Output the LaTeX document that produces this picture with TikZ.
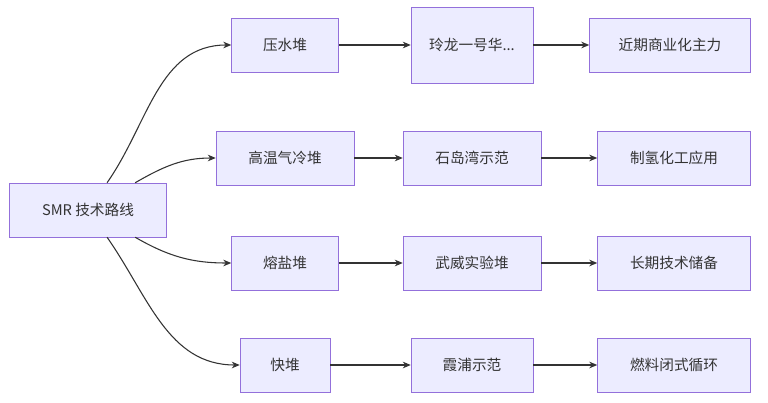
\documentclass[tikz,border=0pt]{standalone}
\usepackage{fontspec}
\setmainfont{Noto Sans CJK SC}
\usetikzlibrary{arrows.meta}

\tikzset{
    box/.style={draw={rgb,255:red,147;green,112;blue,219}, fill={rgb,255:red,236;green,236;blue,255}, minimum height=40.5pt, inner sep=0pt, font=\fontsize{11}{13}\selectfont, text={rgb,255:red,51;green,51;blue,51}},
    link/.style={draw={rgb,255:red,51;green,51;blue,51}, line width=0.8pt, -{Stealth[length=6pt,width=5pt]}}
}

\begin{document}
\begin{tikzpicture}[x=0.75pt,y=-0.75pt]
    \useasboundingbox (0,0) rectangle (768,403);

    % root
    \node [box, minimum width=117.75pt] (smr) at (88,210) {SMR 技术路线};

    % first column
    \node [box, minimum width=80.25pt] (pwr) at (285,45) {压水堆};
    \node [box, minimum width=103.5pt] (htgr) at (285,158) {高温气冷堆};
    \node [box, minimum width=80.25pt] (msr) at (285,263) {熔盐堆};
    \node [box, minimum width=67.5pt] (fbr) at (285,365) {快堆};

    % second column
    \node [box, minimum width=91.5pt, minimum height=57pt] (linglong) at (472,45) {玲龙一号华...};
    \node [box, minimum width=103.5pt] (shidao) at (472,158) {石岛湾示范};
    \node [box, minimum width=103.5pt] (wuwei) at (472,263) {武威实验堆};
    \node [box, minimum width=91.5pt] (xiapu) at (472,365) {霞浦示范};

    % third column
    \node [box, minimum width=120.75pt] (nearterm) at (670,45) {近期商业化主力};
    \node [box, minimum width=114.75pt] (hydrogen) at (674,158) {制氢化工应用};
    \node [box, minimum width=114.75pt] (reserve) at (674,263) {长期技术储备};
    \node [box, minimum width=114.75pt] (cycle) at (674,365) {燃料闭式循环};

    % connectors
    \draw [link] (smr) to[out=55,in=180] (pwr.west);
    \draw [link] (smr) to[out=30,in=180] (htgr.west);
    \draw [link] (smr) to[out=-30,in=180] (msr.west);
    \draw [link] (smr) to[out=-55,in=180] (fbr.west);

    \draw [link] (pwr) -- (linglong);
    \draw [link] (htgr) -- (shidao);
    \draw [link] (msr) -- (wuwei);
    \draw [link] (fbr) -- (xiapu);

    \draw [link] (linglong) -- (nearterm);
    \draw [link] (shidao) -- (hydrogen);
    \draw [link] (wuwei) -- (reserve);
    \draw [link] (xiapu) -- (cycle);
\end{tikzpicture}
\end{document}
